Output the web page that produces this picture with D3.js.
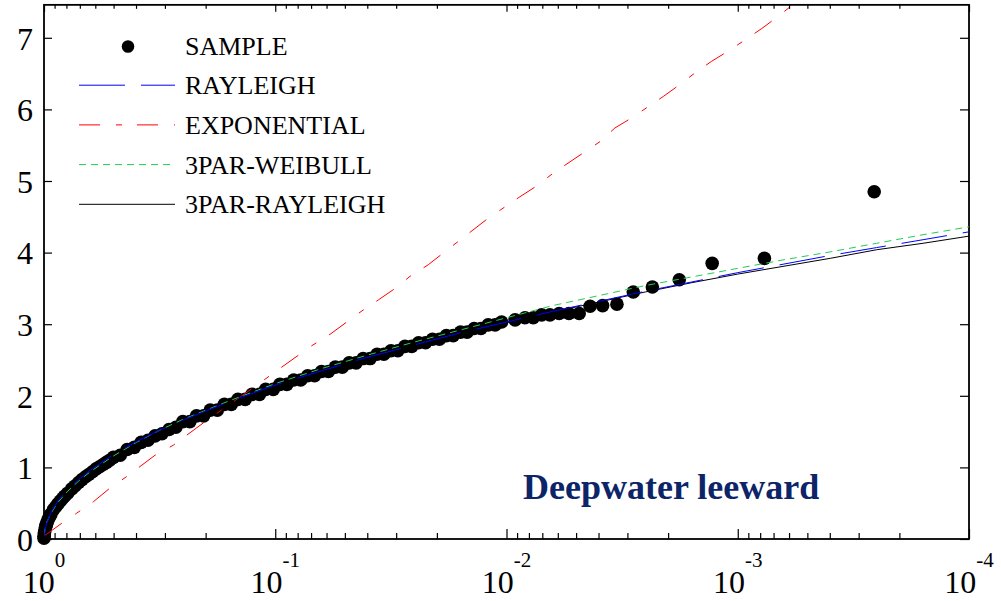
<!DOCTYPE html>
<html>
<head>
<meta charset="utf-8">
<script src="https://cdn.jsdelivr.net/npm/d3@7"></script>
<style>
  body { margin: 0; background: #fff; }
  svg { display: block; }
</style>
</head>
<body>
<div id="chart"></div>
<script>
// exceedance probability vs normalised height (sample heights come in small steps)
const sampleP = [0.9999, 0.999, 0.997, 0.995, 0.99, 0.985, 0.98, 0.975, 0.97, 0.96, 0.95, 0.94, 0.933,
  0.91, 0.89, 0.871, 0.85, 0.83, 0.813, 0.79, 0.759, 0.735, 0.708, 0.685, 0.661, 0.64, 0.617, 0.595,
  0.575, 0.555, 0.537, 0.52, 0.501, 0.468, 0.437, 0.407, 0.38, 0.355, 0.331, 0.309, 0.288, 0.269,
  0.251, 0.234, 0.219, 0.204, 0.191, 0.178, 0.166, 0.155, 0.145, 0.135, 0.126, 0.117, 0.11, 0.102,
  0.0955, 0.0891, 0.0832, 0.0776, 0.0724, 0.0676, 0.0631, 0.0589, 0.055, 0.0513, 0.0479, 0.0447,
  0.0417, 0.0389, 0.0363, 0.0339, 0.0316, 0.0295, 0.0275, 0.0257, 0.024, 0.0224, 0.0209, 0.0195,
  0.0182, 0.017, 0.0158, 0.0148, 0.0138, 0.0129, 0.012, 0.0112, 0.0105,
  0.00918, 0.00832, 0.00766, 0.00705, 0.00649, 0.00592, 0.00537, 0.00485, 0.00435, 0.00384,
  0.00333, 0.00283, 0.00234, 0.00179, 0.00129, 0.000767, 0.000257]
const sampleH = [0.01, 0.04, 0.07, 0.09, 0.13, 0.16, 0.19, 0.21, 0.23, 0.27, 0.3, 0.33, 0.35,
  0.41, 0.45, 0.49, 0.53, 0.57, 0.6, 0.64, 0.7, 0.74, 0.79, 0.83, 0.87, 0.9, 0.94, 0.98,
  1.01, 1.04, 1.07, 1.1, 1.14, 1.17, 1.25, 1.28, 1.35, 1.38, 1.44, 1.47, 1.53, 1.56,
  1.64, 1.64, 1.72, 1.72, 1.8, 1.8, 1.88, 1.88, 1.95, 1.95, 2.02, 2.02, 2.09, 2.09,
  2.16, 2.16, 2.22, 2.22, 2.28, 2.28, 2.34, 2.34, 2.4, 2.4, 2.46, 2.46,
  2.52, 2.52, 2.58, 2.58, 2.63, 2.63, 2.69, 2.69, 2.74, 2.74, 2.79, 2.79,
  2.84, 2.84, 2.89, 2.89, 2.94, 2.94, 2.99, 2.99, 3.03,
  3.06, 3.09, 3.09, 3.13, 3.13, 3.15, 3.15, 3.15, 3.25, 3.26,
  3.28, 3.45, 3.52, 3.62, 3.85, 3.92, 4.85]

const fitP = [0.999, 0.977, 0.933, 0.871, 0.794, 0.708, 0.631, 0.501, 0.398, 0.316, 0.251, 0.158,
  0.1, 0.0631, 0.0398, 0.0251, 0.0158, 0.01, 0.00631, 0.00398, 0.00251, 0.00158,
  0.001, 0.000631, 0.000398, 0.000251, 0.000158, 0.0001]
const rayleighH = [0.04, 0.21, 0.37, 0.53, 0.68, 0.83, 0.96, 1.18, 1.36, 1.52, 1.66, 1.92,
  2.15, 2.35, 2.54, 2.71, 2.88, 3.03, 3.18, 3.32, 3.46, 3.59, 3.72, 3.84, 3.96, 4.07, 4.18, 4.29]
const weibull3H = [0.06, 0.22, 0.36, 0.51, 0.66, 0.81, 0.94, 1.16, 1.35, 1.52, 1.67, 1.93,
  2.17, 2.38, 2.57, 2.75, 2.92, 3.09, 3.26, 3.4, 3.54, 3.66, 3.78, 3.9, 4.01, 4.13, 4.25, 4.36]
const rayleigh3H = [0.05, 0.21, 0.37, 0.52, 0.67, 0.82, 0.95, 1.17, 1.36, 1.52, 1.67, 1.93,
  2.15, 2.35, 2.54, 2.71, 2.87, 3.02, 3.17, 3.31, 3.45, 3.58, 3.7, 3.81, 3.92, 4.04, 4.13, 4.23]

const expP = [0.99, 0.838, 0.723, 0.612, 0.519, 0.44, 0.331, 0.276, 0.205, 0.171, 0.126, 0.0938,
  0.0695, 0.0579, 0.0416, 0.0358, 0.0303, 0.0261, 0.0218, 0.0185, 0.012, 0.00875, 0.00741,
  0.00628, 0.00457, 0.00394, 0.0034, 0.00288, 0.0021, 0.00181, 0.00153, 0.0013, 0.00108,
  0.000931, 0.000787, 0.000656, 0.000575]
const expH = [0.05, 0.22, 0.36, 0.52, 0.71, 0.87, 1.17, 1.31, 1.62, 1.8, 2.1, 2.4,
  2.7, 2.86, 3.2, 3.34, 3.5, 3.67, 3.83, 4.01, 4.48, 4.78, 4.93,
  5.11, 5.41, 5.55, 5.74, 5.88, 6.18, 6.33, 6.51, 6.67, 6.83,
  6.97, 7.13, 7.32, 7.47]

const decades = [1, 0.1, 0.01, 0.001, 0.0001]
const decadeExp = ['0', '-1', '-2', '-3', '-4']
const yTicks = [0, 1, 2, 3, 4, 5, 6, 7]
const legendNames = ['SAMPLE', 'RAYLEIGH', 'EXPONENTIAL', '3PAR-WEIBULL', '3PAR-RAYLEIGH']

const W = 1001
const H = 601
const plotLeft = 44, plotRight = 969, plotBottom = 539
const yMax = 7.46
const dotR = 6.8

const x = d3.scaleLog().domain([1, 0.0001]).range([plotLeft, plotRight])
const y = d3.scaleLinear().domain([0, yMax]).range([plotBottom, plotBottom - yMax * 71.6])
const plotTop = y(yMax)

const serif = '"Liberation Serif", "Times New Roman", serif'

const svg = d3.select('#chart').append('svg')
  .attr('width', W)
  .attr('height', H)

svg.append('defs').append('clipPath').attr('id', 'plot')
  .append('rect')
  .attr('x', plotLeft).attr('y', plotTop)
  .attr('width', plotRight - plotLeft).attr('height', plotBottom - plotTop)

// minor ticks of the log axis
const minor = []
decades.slice(1).forEach(d => {
  for (let m = 2; m <= 9; m++) minor.push(m * d)
})

function noDomain(g) {
  g.select('.domain').remove()
  g.selectAll('line').attr('stroke', '#000').attr('stroke-width', 1.2)
}

svg.append('g').attr('transform', `translate(0,${plotBottom})`)
  .call(d3.axisBottom(x).tickValues(decades).tickSize(-10).tickFormat(''))
  .call(noDomain)
svg.append('g').attr('transform', `translate(0,${plotBottom})`)
  .call(d3.axisBottom(x).tickValues(minor).tickSize(-6).tickFormat(''))
  .call(noDomain)
svg.append('g').attr('transform', `translate(0,${plotTop})`)
  .call(d3.axisTop(x).tickValues(decades).tickSize(-7).tickFormat(''))
  .call(noDomain)
svg.append('g').attr('transform', `translate(0,${plotTop})`)
  .call(d3.axisTop(x).tickValues(minor).tickSize(-4).tickFormat(''))
  .call(noDomain)

const yAxis = svg.append('g').attr('transform', `translate(${plotLeft},0)`)
  .call(d3.axisLeft(y).tickValues(yTicks).tickSize(-8).tickPadding(11).tickFormat(d3.format('d')))
  .call(noDomain)
yAxis.selectAll('text')
  .attr('font-family', serif)
  .attr('font-size', 32)
  .attr('fill', '#000')
  .attr('dy', '0.35em')

svg.append('g').attr('transform', `translate(${plotRight},0)`)
  .call(d3.axisRight(y).tickValues(yTicks).tickSize(-9).tickFormat(''))
  .call(noDomain)

// x labels 10^n
const xl = svg.append('g')
  .selectAll('text')
  .data(decades)
  .enter()
  .append('text')
  .attr('x', d => x(d))
  .attr('y', 593)
  .attr('text-anchor', 'middle')
  .attr('font-family', serif)
  .attr('fill', '#000')
xl.append('tspan').attr('font-size', 32).text('10')
xl.append('tspan').attr('font-size', 21).attr('dy', -26).text((d, i) => decadeExp[i])

// frame
svg.append('rect')
  .attr('x', plotLeft).attr('y', plotTop)
  .attr('width', plotRight - plotLeft).attr('height', plotBottom - plotTop)
  .attr('fill', 'none')
  .attr('stroke', '#000')
  .attr('stroke-width', 1.8)

// sample
const sample = sampleP.map((p, i) => ({ p: p, h: sampleH[i] }))
svg.append('g')
  .selectAll('circle')
  .data(sample)
  .enter()
  .append('circle')
  .attr('cx', d => x(d.p))
  .attr('cy', d => y(d.h))
  .attr('r', dotR)
  .attr('fill', '#000')

const line = d3.line()
  .x(d => x(d[0]))
  .y(d => y(d[1]))

const expDash = '21,16,6,15'
const series = [
  { p: expP, h: expH, color: '#ff0000', dash: expDash },
  { p: fitP, h: rayleigh3H, color: '#000000', dash: null },
  { p: fitP, h: weibull3H, color: '#22cc55', dash: '7,5' },
  { p: fitP, h: rayleighH, color: '#0000ff', dash: '46,16' }
]

svg.append('g')
  .attr('clip-path', 'url(#plot)')
  .selectAll('path')
  .data(series)
  .enter()
  .append('path')
  .attr('d', s => line(s.p.map((p, i) => [p, s.h[i]])))
  .attr('fill', 'none')
  .attr('stroke', s => s.color)
  .attr('stroke-width', 1)
  .attr('stroke-dasharray', s => s.dash)

// legend
const legendStyle = [
  null,
  { color: '#0000ff', dash: '46,16' },
  { color: '#ff0000', dash: expDash },
  { color: '#22cc55', dash: '7,5' },
  { color: '#000000', dash: null }
]
const legend = svg.append('g')
legendNames.forEach((name, i) => {
  const by = 54.5 + i * 39.7
  legend.append('text')
    .attr('x', 185)
    .attr('y', by)
    .attr('font-family', serif)
    .attr('font-size', 26)
    .attr('fill', '#000')
    .text(name)
  if (i === 0) {
    legend.append('circle')
      .attr('cx', 128).attr('cy', by - 8).attr('r', 6.3).attr('fill', '#000')
  } else {
    legend.append('line')
      .attr('x1', 79).attr('x2', 175)
      .attr('y1', by - 9).attr('y2', by - 9)
      .attr('stroke', legendStyle[i].color)
      .attr('stroke-width', 1)
      .attr('stroke-dasharray', legendStyle[i].dash)
  }
})

svg.append('text')
  .attr('x', 523)
  .attr('y', 499)
  .attr('font-family', serif)
  .attr('font-size', 36)
  .attr('font-weight', 'bold')
  .attr('fill', '#0c2468')
  .text('Deepwater leeward')
</script>
</body>
</html>
